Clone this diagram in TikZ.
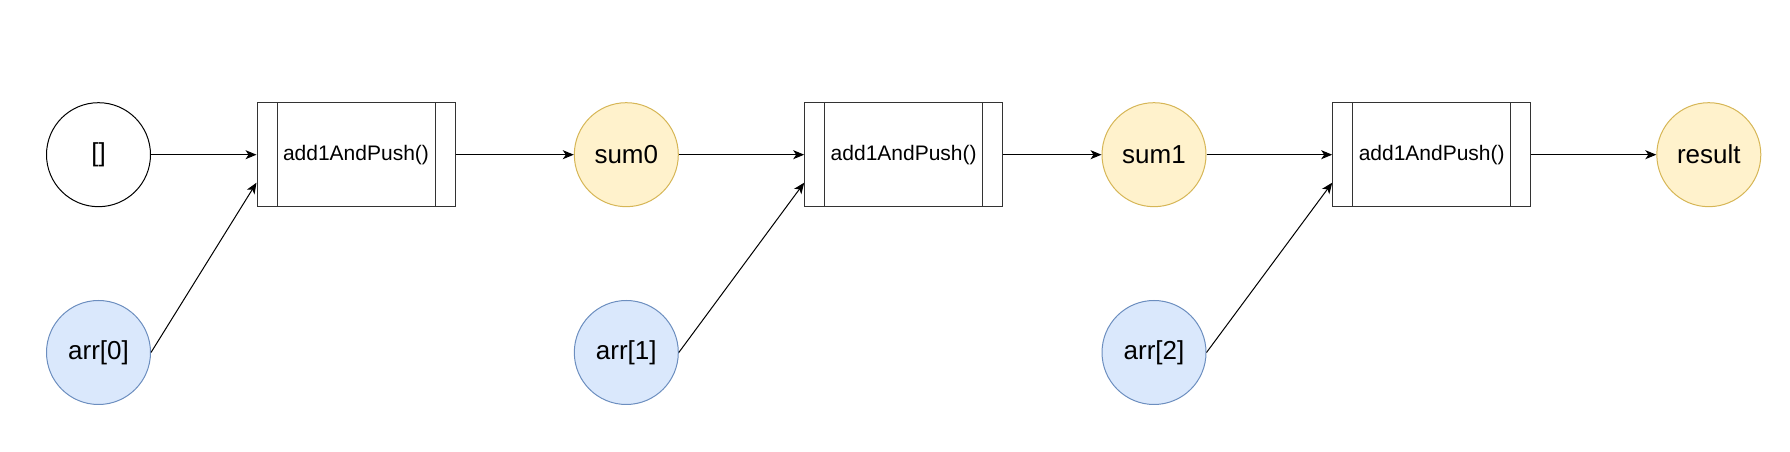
\documentclass[tikz,border=0pt]{standalone}
\usepackage{fontspec}
\setmainfont{Liberation Sans}
\usetikzlibrary{arrows.meta}
\definecolor{sumfill}{HTML}{FFF2CC}
\definecolor{sumdraw}{HTML}{D6B656}
\definecolor{arrfill}{HTML}{DAE8FC}
\definecolor{arrdraw}{HTML}{6C8EBF}
\begin{document}
\begin{tikzpicture}[x=1pt, y=1pt, line width=1pt, >={Stealth[length=11pt,width=9pt,inset=3pt]},
  value node/.style={circle,draw=black,minimum size=104pt,inner sep=0pt,font=\fontsize{26}{30}\selectfont},
  sum node/.style={value node,fill=sumfill,draw=sumdraw},
  arr node/.style={value node,fill=arrfill,draw=arrdraw},
  func node/.style={rectangle,draw=black!80,minimum width=198pt,minimum height=104pt,inner sep=0pt,
    font=\fontsize{21}{25}\selectfont,
    path picture={\draw[black!80] ([xshift=20pt]path picture bounding box.north west) -- ([xshift=20pt]path picture bounding box.south west)
      ([xshift=-20pt]path picture bounding box.north east) -- ([xshift=-20pt]path picture bounding box.south east);}}]
\useasboundingbox (0,0) rectangle (1790,452);
\node[value node] (empty) at (98.5,297.3) {[]};
\node[arr node] (arr0) at (98.5,99.5) {arr[0]};
\node[func node] (f1) at (356,297.3) {add1AndPush()};
\node[sum node] (sum0) at (626.3,297.3) {sum0};
\node[arr node] (arr1) at (626.3,99.5) {arr[1]};
\node[func node] (f2) at (903.7,297.3) {add1AndPush()};
\node[sum node] (sum1) at (1154,297.3) {sum1};
\node[arr node] (arr2) at (1154,99.5) {arr[2]};
\node[func node] (f3) at (1431.7,297.3) {add1AndPush()};
\node[sum node] (result) at (1708.8,297.3) {result};
\draw[->] (empty) -- (f1);
\draw[->] (arr0.east) -- ([yshift=-28pt]f1.west);
\draw[->] (f1) -- (sum0);
\draw[->] (sum0) -- (f2);
\draw[->] (arr1.east) -- ([yshift=-28pt]f2.west);
\draw[->] (f2) -- (sum1);
\draw[->] (sum1) -- (f3);
\draw[->] (arr2.east) -- ([yshift=-28pt]f3.west);
\draw[->] (f3) -- (result);
\end{tikzpicture}
\end{document}
